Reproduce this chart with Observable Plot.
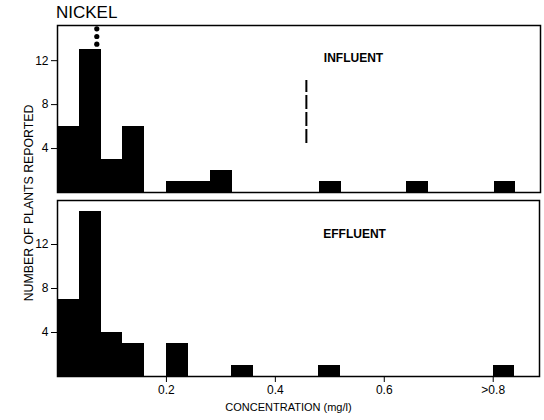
<!DOCTYPE html>
<html>
<head>
<meta charset="utf-8">
<script src="https://cdn.jsdelivr.net/npm/d3@7"></script>
<script src="https://cdn.jsdelivr.net/npm/@observablehq/plot@0.6"></script>
<style>
  html, body { margin: 0; padding: 0; background: #fff; }
  #chart { position: relative; width: 544px; height: 420px; font-family: "Liberation Sans", Arial, sans-serif; color: #000; }
  #chart svg { position: absolute; left: 0; }
  #title { position: absolute; left: 56px; top: 3px; font-size: 17px; line-height: 20px; }
  #ylabel { position: absolute; left: 29px; top: 203px; font-size: 12.3px; white-space: nowrap;
            transform: translate(-50%, -50%) rotate(-90deg); }
</style>
</head>
<body>
<div id="chart">
  <div id="title">NICKEL</div>
  <div id="ylabel">NUMBER OF PLANTS REPORTED</div>
</div>
<script>
// Nickel concentration histograms, bins of 0.04 mg/l (lower edges listed)
const binWidth = 0.04;

const influentBinLo = [0, 0.04, 0.08, 0.12, 0.20, 0.24, 0.28, 0.48, 0.64, 0.80];
const influentCount = [6, 13, 3, 6, 1, 1, 2, 1, 1, 1];

const effluentBinLo = [0, 0.04, 0.08, 0.12, 0.20, 0.32, 0.48, 0.80];
const effluentCount = [7, 15, 4, 3, 3, 1, 1, 1];

// the 0.04–0.08 influent bin runs off the scale: dotted continuation
const overflowX = 0.072;
const overflowY = [13.5, 14.2, 14.9];

// dashed marker in the influent panel
const markerX = [0.456];
const markerY1 = [4.45];
const markerY2 = [10.2];

const yTicks = [4, 8, 12];
const xTicks = [0.2, 0.4, 0.6, 0.8];
const xTickLabels = ["0.2", "0.4", "0.6", ">0.8"];
const panelNames = ["INFLUENT", "EFFLUENT"];
const xTitle = "CONCENTRATION (mg/l)";

const influent = influentBinLo.map((lo, i) => ({lo, hi: lo + binWidth, n: influentCount[i]}));
const effluent = effluentBinLo.map((lo, i) => ({lo, hi: lo + binWidth, n: effluentCount[i]}));
const overflow = overflowY.map(y => ({x: overflowX, y}));
const marker = markerX.map((x, i) => ({x, y1: markerY1[i], y2: markerY2[i]}));
const xLabelOf = new Map(xTicks.map((t, i) => [t, xTickLabels[i]]));

const font = "'Liberation Sans', Arial, sans-serif";
const xDomain = [0, 0.885];

// adjacent bins share edges; crisp edges keep them from showing seams
const barStyle = {fill: "black", shapeRendering: "crispEdges"};

const influentPanel = Plot.plot({
  width: 544, height: 195,
  marginTop: 25, marginBottom: 3, marginLeft: 57, marginRight: 4,
  style: {fontFamily: font, fontSize: "12px", background: "transparent", overflow: "visible"},
  x: {domain: xDomain, axis: null},
  y: {domain: [0, 15.2], axis: null},
  marks: [
    Plot.rectY(influent, {x1: "lo", x2: "hi", y: "n", ...barStyle}),
    Plot.dot(overflow, {x: "x", y: "y", r: 2.6, fill: "black", stroke: "none"}),
    Plot.ruleX(marker, {x: "x", y1: "y1", y2: "y2", stroke: "black", strokeWidth: 2, strokeDasharray: "14,3"}),
    Plot.text([panelNames[0]], {x: 0.488, y: 12.2, textAnchor: "start", fontWeight: "bold", fontSize: 12}),
    Plot.axisY(yTicks, {anchor: "left", tickSize: 6, tickPadding: 3, label: null, fontSize: 12}),
    Plot.frame({stroke: "black", strokeWidth: 1.5})
  ]
});
influentPanel.style.top = "0px";

const effluentPanel = Plot.plot({
  width: 544, height: 225,
  marginTop: 5, marginBottom: 44, marginLeft: 57, marginRight: 5,
  style: {fontFamily: font, fontSize: "12px", background: "transparent", overflow: "visible"},
  x: {domain: xDomain, axis: null},
  y: {domain: [0, 16], axis: null},
  marks: [
    Plot.rectY(effluent, {x1: "lo", x2: "hi", y: "n", ...barStyle}),
    Plot.text([panelNames[1]], {x: 0.488, y: 12.9, textAnchor: "start", fontWeight: "bold", fontSize: 12}),
    Plot.axisY(yTicks, {anchor: "left", tickSize: 6, tickPadding: 3, label: null, fontSize: 12}),
    Plot.axisX(xTicks, {anchor: "bottom", tickSize: 6, tickPadding: 3, label: null, fontSize: 12,
                        tickFormat: d => xLabelOf.get(d)}),
    Plot.text([xTitle], {frameAnchor: "bottom", dy: 34, dx: -10, fontSize: 11}),
    Plot.frame({stroke: "black", strokeWidth: 1.5})
  ]
});
effluentPanel.style.top = "195px";

const chart = document.getElementById("chart");
chart.appendChild(influentPanel);
chart.appendChild(effluentPanel);
</script>
</body>
</html>
